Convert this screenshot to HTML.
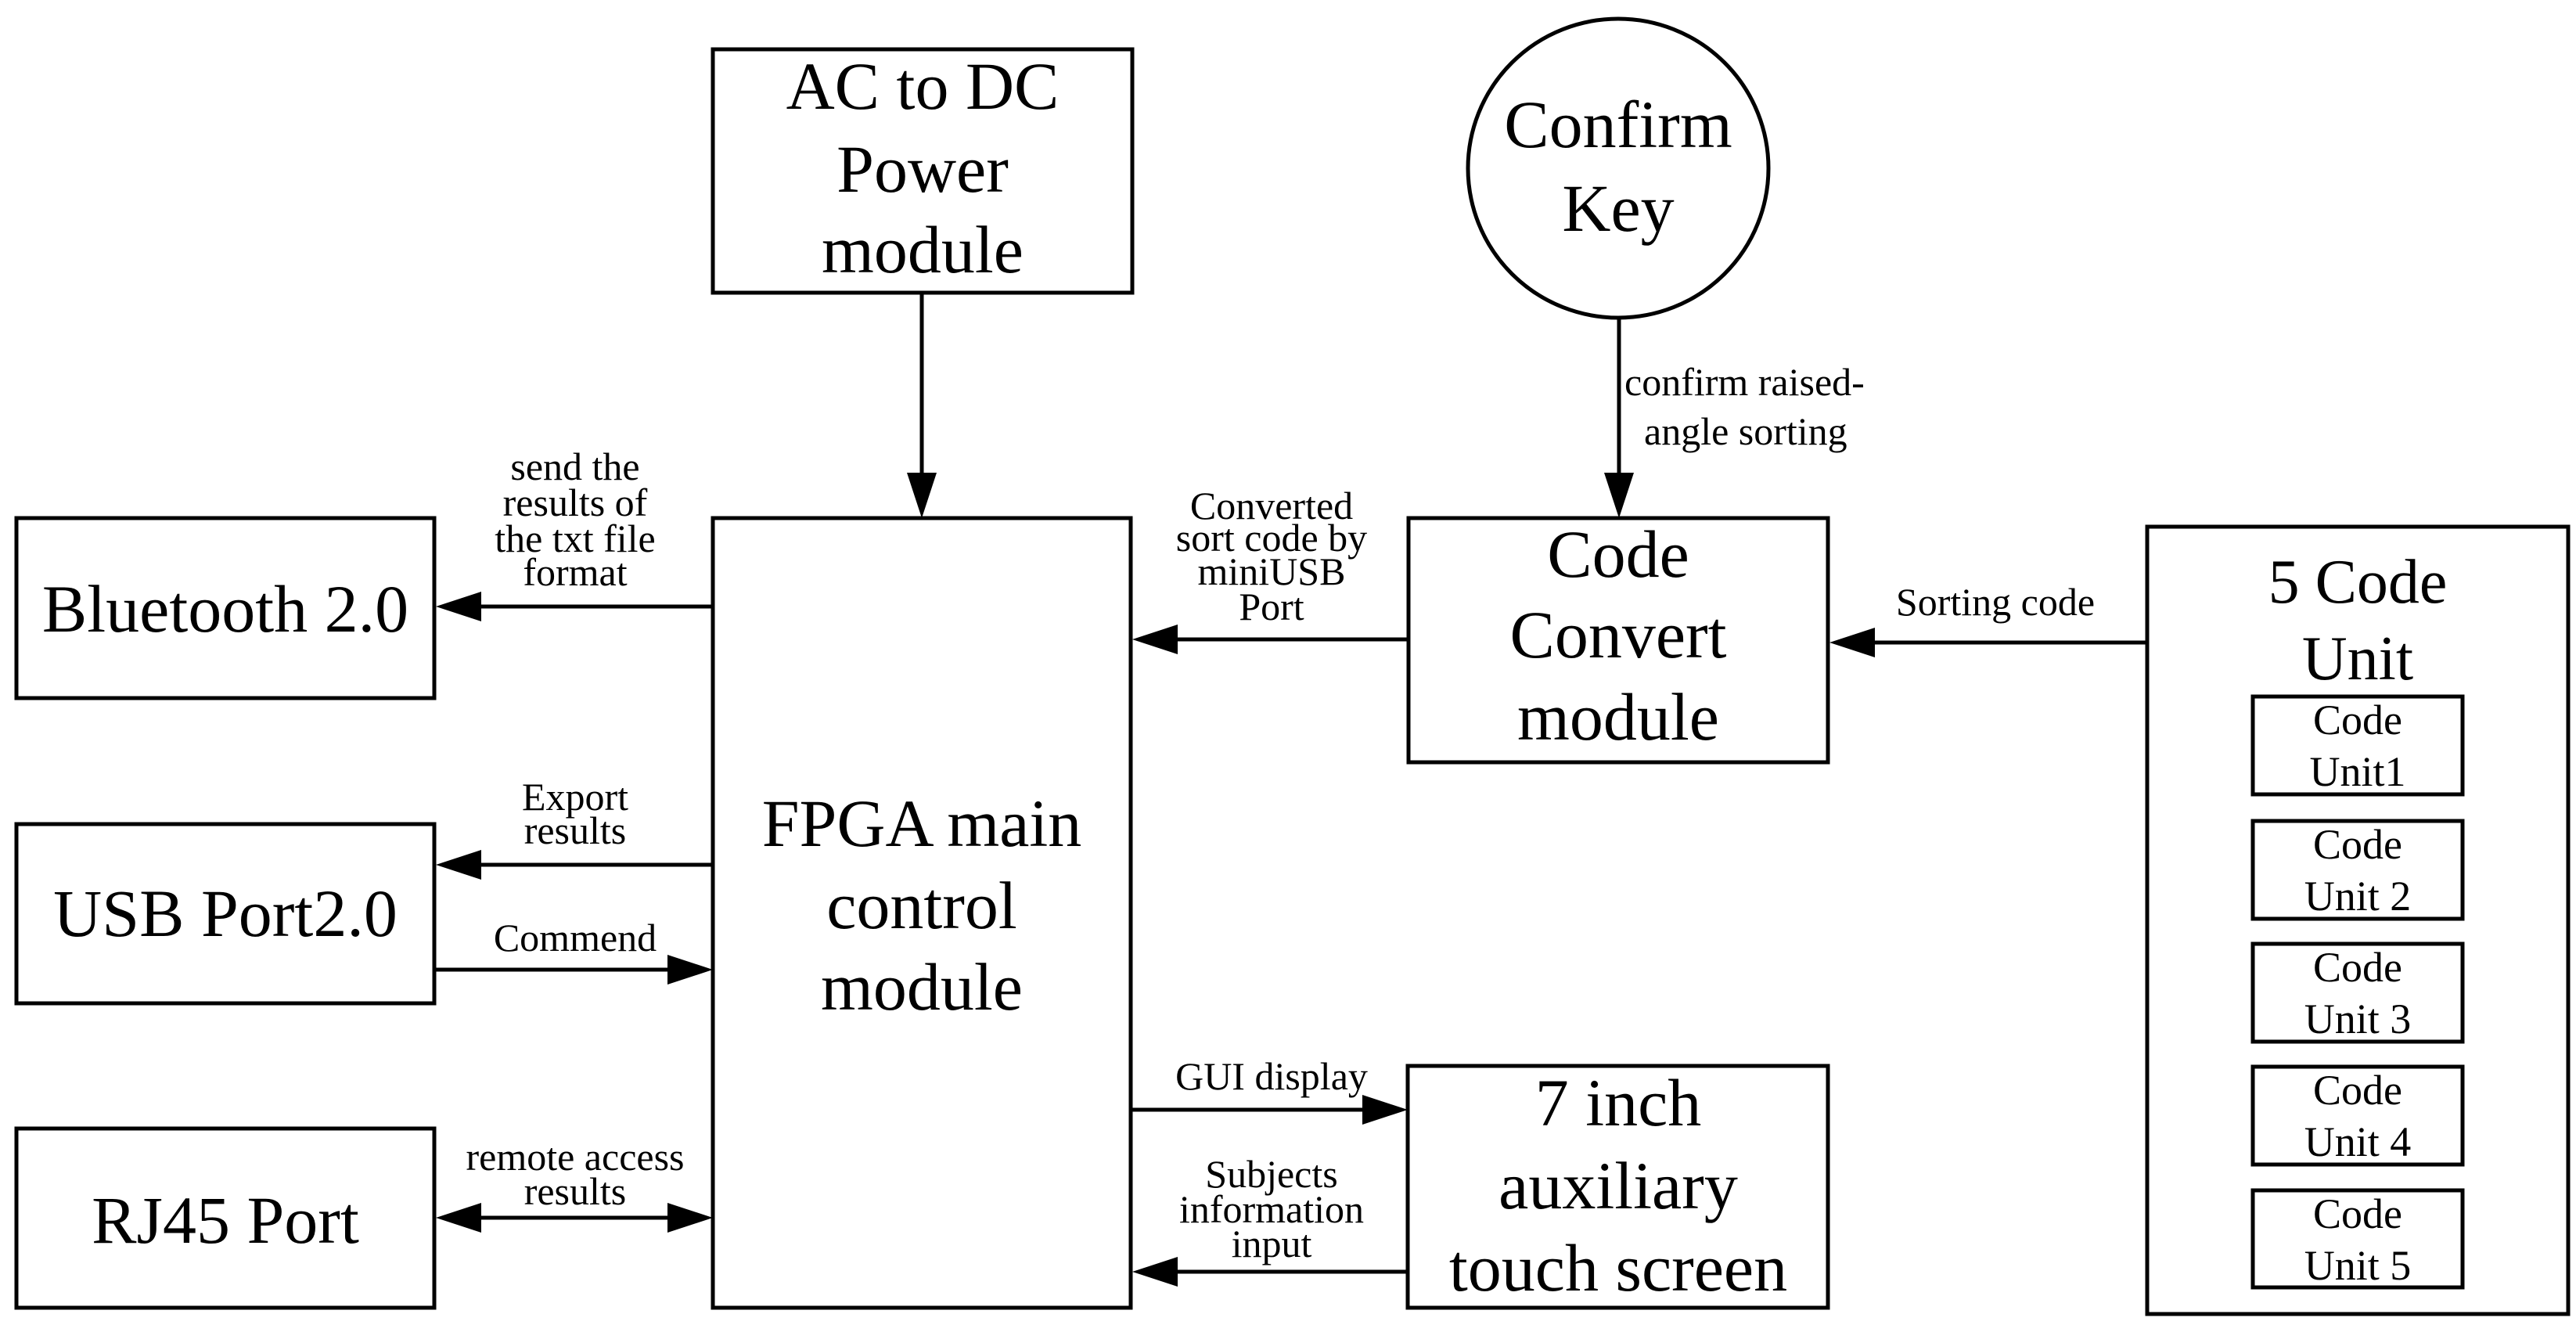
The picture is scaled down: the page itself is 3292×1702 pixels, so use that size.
<!DOCTYPE html>
<html><head><meta charset="utf-8"><style>
html,body{margin:0;padding:0;background:#fff;}
svg{display:block;}
text{font-family:"Liberation Serif","DejaVu Serif",serif;fill:#000;}
.b{font-size:86px;}
.s{font-size:50px;}
.m{font-size:54px;}
</style></head><body>
<svg width="3292" height="1702" viewBox="0 0 3292 1702" xmlns="http://www.w3.org/2000/svg">
<g fill="none" stroke="#000" stroke-width="5">
<rect x="911" y="63" width="536" height="311"/>
<rect x="911" y="662" width="534" height="1009"/>
<rect x="21" y="662" width="534" height="230"/>
<rect x="21" y="1053" width="534" height="229"/>
<rect x="21" y="1442" width="534" height="229"/>
<rect x="1800" y="662" width="536" height="312"/>
<rect x="1799" y="1362" width="537" height="309"/>
<rect x="2744" y="673" width="538" height="1006"/>
<rect x="2879" y="890" width="268" height="125"/>
<rect x="2879" y="1049" width="268" height="125"/>
<rect x="2879" y="1206" width="268" height="125"/>
<rect x="2879" y="1363" width="268" height="125"/>
<rect x="2879" y="1521" width="268" height="124"/>
<ellipse cx="2068" cy="215" rx="192" ry="191"/>
<line x1="1178" y1="374" x2="1178" y2="610"/>
<line x1="2069" y1="406" x2="2069" y2="610"/>
<line x1="911" y1="775" x2="605" y2="775"/>
<line x1="911" y1="1105" x2="605" y2="1105"/>
<line x1="555" y1="1239" x2="860" y2="1239"/>
<line x1="605" y1="1556" x2="860" y2="1556"/>
<line x1="1800" y1="817" x2="1500" y2="817"/>
<line x1="2744" y1="821" x2="2390" y2="821"/>
<line x1="1445" y1="1418" x2="1745" y2="1418"/>
<line x1="1799" y1="1625" x2="1500" y2="1625"/>
</g>
<g fill="#000">
<polygon points="1178,662 1159,604 1197,604"/>
<polygon points="2069,662 2050,604 2088,604"/>
<polygon points="557,775 615,756 615,794"/>
<polygon points="557,1105 615,1086 615,1124"/>
<polygon points="911,1239 853,1220 853,1258"/>
<polygon points="557,1556 615,1537 615,1575"/>
<polygon points="911,1556 853,1537 853,1575"/>
<polygon points="1447,817 1505,798 1505,836"/>
<polygon points="2338,821 2396,802 2396,840"/>
<polygon points="1799,1418 1741,1399 1741,1437"/>
<polygon points="1447,1625 1505,1606 1505,1644"/>
</g>
<g class="b" text-anchor="middle">
<text x="1179" y="139">AC to DC</text>
<text x="1179" y="245">Power</text>
<text x="1179" y="348">module</text>
<text x="288" y="807">Bluetooth 2.0</text>
<text x="288" y="1196">USB Port2.0</text>
<text x="288" y="1588">RJ45 Port</text>
<text x="1178" y="1081">FPGA main</text>
<text x="1178" y="1186">control</text>
<text x="1178" y="1290">module</text>
<text x="2068" y="188">Confirm</text>
<text x="2068" y="295">Key</text>
<text x="2068" y="737">Code</text>
<text x="2068" y="840">Convert</text>
<text x="2068" y="945">module</text>
<text x="2068" y="1438">7 inch</text>
<text x="2068" y="1544">auxiliary</text>
<text x="2068" y="1649">touch screen</text>
<text x="3013" y="770" style="font-size:80px">5 Code</text>
<text x="3013" y="868" style="font-size:80px">Unit</text>
</g>
<g class="m" text-anchor="middle">
<text x="3013" y="938">Code</text><text x="3013" y="1004">Unit1</text>
<text x="3013" y="1097">Code</text><text x="3013" y="1163">Unit 2</text>
<text x="3013" y="1254">Code</text><text x="3013" y="1320">Unit 3</text>
<text x="3013" y="1411">Code</text><text x="3013" y="1477">Unit 4</text>
<text x="3013" y="1569">Code</text><text x="3013" y="1635">Unit 5</text>
</g>
<g class="s" text-anchor="middle">
<text x="735" y="613">send the</text>
<text x="735" y="659">results of</text>
<text x="735" y="705">the txt file</text>
<text x="735" y="748">format</text>
<text x="735" y="1035">Export</text>
<text x="735" y="1078">results</text>
<text x="735" y="1215">Commend</text>
<text x="735" y="1495">remote access</text>
<text x="735" y="1539">results</text>
<text x="1625" y="663">Converted</text>
<text x="1625" y="704">sort code by</text>
<text x="1625" y="747">miniUSB</text>
<text x="1625" y="792">Port</text>
<text x="1625" y="1392">GUI display</text>
<text x="1625" y="1517">Subjects</text>
<text x="1625" y="1562">information</text>
<text x="1625" y="1606">input</text>
<text x="2550" y="786">Sorting code</text>
</g>
<g class="s">
<text x="2076" y="505">confirm raised-</text>
<text x="2101" y="568">angle sorting</text>
</g>
</svg>
</body></html>
